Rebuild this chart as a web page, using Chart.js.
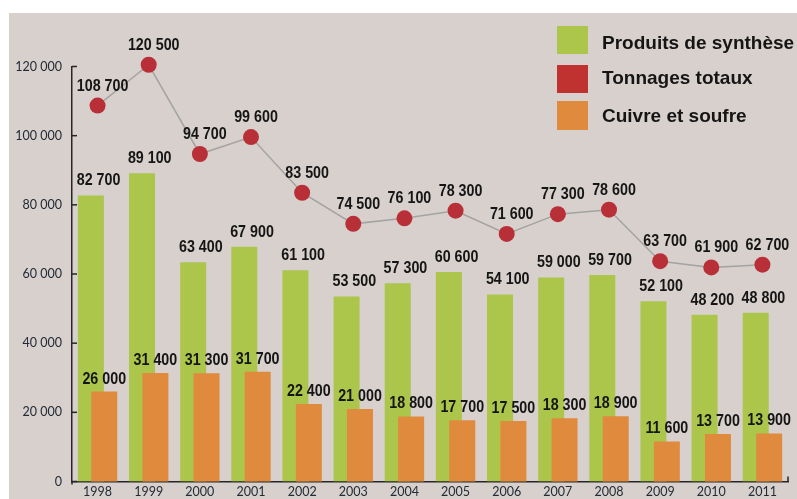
<!DOCTYPE html>
<html><head><meta charset="utf-8">
<script src="https://cdn.jsdelivr.net/npm/chart.js@4"></script>
<style>
html,body{margin:0;padding:0;background:#fff;overflow:hidden}
#wrap{position:relative;width:797px;height:499px;overflow:hidden;background:#fff}
#bg{position:absolute;left:9px;top:13px;right:0;bottom:0;background:#d7d0cc}
#c{position:absolute;left:0;top:0}
.lg{position:absolute;left:602px;font:bold 19px 'Liberation Sans',Arial,sans-serif;color:#151515;white-space:nowrap;line-height:normal}
.box{position:absolute;left:557px;width:31px}
</style></head><body>
<div id="wrap"><div id="bg"></div><canvas id="c" width="797" height="499"></canvas><div id="legend"></div></div>
<script>
const years = ['1998','1999','2000','2001','2002','2003','2004','2005','2006','2007','2008','2009','2010','2011'];
const produitsSynthese = [82700, 89100, 63400, 67900, 61100, 53500, 57300, 60600, 54100, 59000, 59700, 52100, 48200, 48800];
const tonnagesTotaux = [108700, 120500, 94700, 99600, 83500, 74500, 76100, 78300, 71600, 77300, 78600, 63700, 61900, 62700];
const cuivreSoufre = [26000, 31400, 31300, 31700, 22400, 21000, 18800, 17700, 17500, 18300, 18900, 11600, 13700, 13900];
const seriesNames = ['Produits de synthèse', 'Tonnages totaux', 'Cuivre et soufre'];
const yMin = 0, yMax = 120000, yStep = 20000;

const colors = {green:'#abc64b', red:'#b92f38', redBox:'#c0322f', orange:'#e08a3d', line:'#a3a3a3', axis:'#262626', text:'#151515', tick:'#232b36'};
const fmt = v => String(v).replace(/\B(?=(\d{3})+(?!\d))/g, ' ');

// legend (HTML)
const lg = document.getElementById('legend');
const legendRows = [
  {name: seriesNames[0], color: colors.green, boxTop: 26, boxH: 28, textTop: 31.5},
  {name: seriesNames[1], color: colors.redBox, boxTop: 65, boxH: 28, textTop: 67},
  {name: seriesNames[2], color: colors.orange, boxTop: 101, boxH: 29, textTop: 104.5}
];
legendRows.forEach(r => {
  const b = document.createElement('div'); b.className='box';
  b.style.top = r.boxTop+'px'; b.style.height = r.boxH+'px'; b.style.background = r.color; lg.appendChild(b);
  const t = document.createElement('div'); t.className='lg'; t.style.top = r.textTop+'px'; t.textContent = r.name; lg.appendChild(t);
});

const barOrder = {
  id: 'barOrder',
  beforeDatasetDraw(chart, args) { if (args.index === 2) return false; },
  afterDatasetDraw(chart, args) {
    if (args.index === 0) { chart.getDatasetMeta(2).controller.draw(); }
  }
};

const labelFont = 'bold 17px "Liberation Sans", Arial, sans-serif';
const labelStretch = 0.84;
function drawLabel(ctx, text, x, y) {
  ctx.save(); ctx.translate(x, y); ctx.scale(labelStretch, 1); ctx.fillText(text, 0, 0); ctx.restore();
}

const labelsPlugin = {
  id: 'labels',
  afterDatasetsDraw(chart) {
    const ctx = chart.ctx, xs = chart.scales.x, ys = chart.scales.y, ca = chart.chartArea;
    ctx.save();
    ctx.strokeStyle = colors.axis; ctx.lineWidth = 1.5;
    ys.ticks.forEach(t => {
      const y = ys.getPixelForValue(t.value);
      ctx.beginPath(); ctx.moveTo(ca.left, y); ctx.lineTo(ca.left + 5, y); ctx.stroke();
    });
    ctx.beginPath(); ctx.moveTo(ca.right, ca.bottom); ctx.lineTo(ca.right, ca.bottom - 5); ctx.stroke();
    ctx.beginPath(); ctx.moveTo(ca.left, ca.bottom); ctx.lineTo(ca.left, ca.bottom + 3); ctx.stroke();
    ctx.font = labelFont;
    ctx.fillStyle = colors.text; ctx.textAlign = 'center'; ctx.textBaseline = 'alphabetic';
    chart.getDatasetMeta(0).data.forEach((el, i) => {
      drawLabel(ctx, fmt(produitsSynthese[i]), xs.getPixelForValue(i) + 1, el.y - 10);
    });
    chart.getDatasetMeta(2).data.forEach((el, i) => {
      drawLabel(ctx, fmt(cuivreSoufre[i]), el.x, el.y - 8);
    });
    chart.getDatasetMeta(1).data.forEach((el, i) => {
      drawLabel(ctx, fmt(tonnagesTotaux[i]), el.x + 5, el.y - 15);
    });
    ctx.restore();
  }
};

new Chart(document.getElementById('c'), {
  data: {
    labels: years,
    datasets: [
      {type:'bar', label: seriesNames[0], data: produitsSynthese, backgroundColor: colors.green, order: 1,
       categoryPercentage: 0.524, barPercentage: 1.94},
      {type:'line', label: seriesNames[1], data: tonnagesTotaux, borderColor: colors.line, borderWidth: 1.5,
       pointRadius: 8, pointHoverRadius: 8, pointBackgroundColor: colors.red, pointBorderWidth: 0, tension: 0, order: 0, clip: false},
      {type:'bar', label: seriesNames[2], data: cuivreSoufre, backgroundColor: colors.orange, order: 2,
       categoryPercentage: 0.524, barPercentage: 1.94}
    ]
  },
  options: {
    responsive: false, animation: false, devicePixelRatio: 1,
    layout: {padding: {top: 66.5, right: 9, left: 0, bottom: 0}},
    plugins: {legend: {display: false}, tooltip: {enabled: false}},
    scales: {
      x: {
        offset: true,
        grid: {display: false, drawTicks: false},
        border: {display: true, color: colors.axis, width: 1.5},
        ticks: {padding: 3, color: colors.tick, font: {family: 'Lato', size: 12.5}, maxRotation: 0, autoSkip: false},
        afterFit: s => { s.height = 16; }
      },
      y: {
        min: yMin, max: yMax,
        grid: {display: false, drawTicks: false},
        border: {display: true, color: colors.axis, width: 1.5},
        ticks: {stepSize: yStep, padding: 10, color: colors.tick, font: {family: 'Lato', size: 12.5}, callback: v => fmt(v)},
        afterFit: s => { s.width = 72; }
      }
    }
  },
  plugins: [barOrder, labelsPlugin]
});
</script>
</body></html>
